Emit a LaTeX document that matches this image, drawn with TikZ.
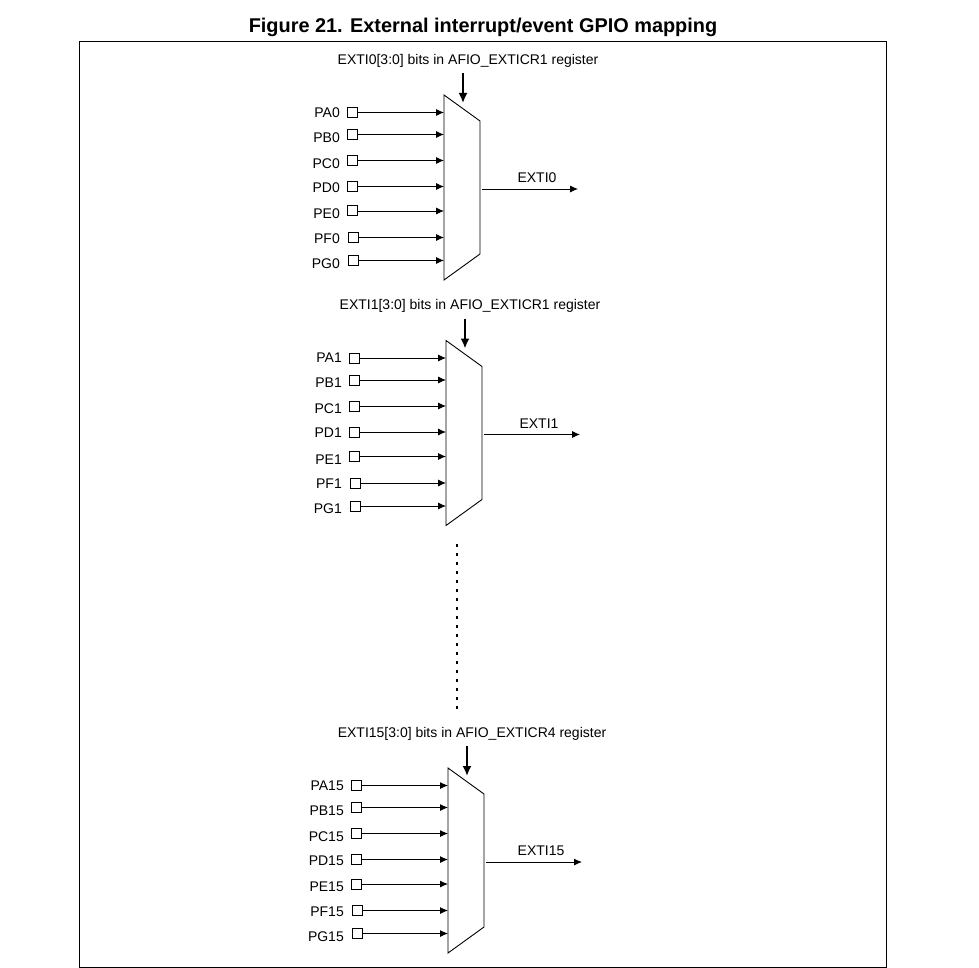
\documentclass[tikz,border=0pt]{standalone}
\usepackage{fontspec}
\setmainfont{Liberation Sans}
\usepackage{xcolor}
\usetikzlibrary{calc,arrows.meta,positioning}

\begin{document}
\begin{tikzpicture}[x=1pt, y=-1pt, >={Latex[length=8pt,width=7pt]},
  font=\fontsize{14}{16}\selectfont,
  muxbox/.style={minimum width=36pt, minimum height=185pt, inner sep=0pt, outer sep=0pt},
  pinbox/.style={draw, line width=1pt, minimum size=10pt, inner sep=0pt, outer sep=0pt},
  pinlab/.style={anchor=east, inner sep=0pt},
  sig/.style={->, line width=0.9pt},
  sel/.style={-{Latex[length=10pt,width=9pt]}, line width=1.8pt}]
  \useasboundingbox (0,0) rectangle (979,968);
  \node[font=\fontsize{19.9}{24}\selectfont\bfseries] (title) at (483,27.5) {Figure 21. External interrupt/event GPIO mapping};
  \node[draw, line width=0.9pt, minimum width=806.5pt, minimum height=926pt, inner sep=0pt, outer sep=0pt] (frame) at (482.75,504.5) {};
  % one selector per line, shifted by hand
  \foreach \g/\dx/\dy/\reg in {0/0/0/1, 1/2/245.5/1, 15/4/673/4} {
    \begin{scope}[shift={(\dx,\dy)}]
      \node[muxbox] (mux\g) at (462,187.5) {};
      \draw[line width=0.9pt] (mux\g.north west) -- ($(mux\g.north east)+(0,26)$) -- ($(mux\g.south east)+(0,-26)$) -- (mux\g.south west) -- cycle;
      \node[inner sep=0pt] (reg\g) at (468,60.8) {EXTI\g[3:0] bits in AFIO\_EXTICR\reg{} register};
      \coordinate (regtop\g) at (463,73);
      \coordinate (regend\g) at (463,103);
      \draw[sel] (regtop\g) -- (regend\g);
      \coordinate (outstart\g) at (482,189);
      \coordinate (outend\g) at (578,189);
      \draw[sig] (outstart\g) -- node[above=6pt, xshift=7pt, inner sep=0pt] (out\g) {EXTI\g} (outend\g);
      \foreach \p/\sx/\sy/\ly in {A/352/112.5/112.5, B/352/134.5/137.5, C/352/160.5/163.5, D/352/186.5/187.5, E/352/211/214, F/353/237.5/238.5, G/353/260.5/263.5} {
        \node[pinbox] (pin\p\g) at (\sx,\sy) {};
        \node[pinlab] (lab\p\g) at (340,\ly) {P\p\g};
        \draw[sig] (pin\p\g.east) -- (pin\p\g.east -| mux\g.west);
      }
    \end{scope}
  }
  \coordinate (dotstart) at (457,544);
  \coordinate (dotend) at (457,709);
  \draw[line width=2pt, dash pattern=on 3pt off 6pt] (dotstart) -- (dotend);
\end{tikzpicture}
\end{document}
